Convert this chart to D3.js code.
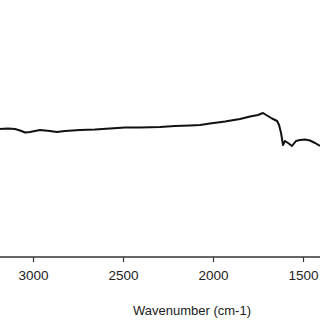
<!DOCTYPE html>
<html>
<head>
<meta charset="utf-8">
<script src="https://cdn.jsdelivr.net/npm/d3@7"></script>
<style>
  body { margin: 0; background: #fff; }
  svg { display: block; }
  text { font-family: "Liberation Sans", Arial, sans-serif; fill: #222; }
</style>
</head>
<body>
<svg width="320" height="320"></svg>
<script>
// wavenumber (cm-1) and transmittance-like values
const wavenumber = [3183, 3139, 3100, 3072, 3044, 3017, 2961, 2906, 2867, 2822,
  2739, 2656, 2572, 2489, 2406, 2294, 2211, 2128, 2072, 2017,
  1933, 1850, 1794, 1750, 1722, 1700, 1672, 1644, 1633, 1622,
  1611, 1600, 1583, 1561, 1539, 1517, 1489, 1461, 1433, 1406];
const signal = [64.0, 64.25, 64.0, 63.25, 62.25, 62.5, 63.5, 63.0, 62.5, 63.0,
  63.5, 63.75, 64.25, 64.75, 64.75, 65.0, 65.5, 65.75, 66.0, 66.75,
  67.75, 69.0, 70.25, 71.0, 72.0, 70.75, 69.25, 68.0, 66.0, 62.0,
  56.0, 58.0, 57.0, 55.5, 58.0, 58.5, 58.75, 58.25, 57.0, 55.5];
const xTicks = [3000, 2500, 2000, 1500];
const xTitle = 'Wavenumber (cm-1)';

const svg = d3.select('svg');

const x = d3.scaleLinear().domain([3000, 1500]).range([33, 303]);
const y = d3.scaleLinear().domain([0, 100]).range([257, 57]);

const pts = wavenumber.map((w, i) => [w, signal[i]]);

const line = d3.line()
  .x(d => x(d[0]))
  .y(d => y(d[1]));

svg.append('path')
  .datum(pts)
  .attr('fill', 'none')
  .attr('stroke', '#111')
  .attr('stroke-width', 2)
  .attr('stroke-linejoin', 'round')
  .attr('d', line);

// x axis
const axis = d3.axisBottom(x)
  .tickValues(xTicks)
  .tickFormat(d3.format('d'))
  .tickSize(5)
  .tickPadding(8)
  .tickSizeOuter(0);

const gx = svg.append('g')
  .attr('transform', 'translate(0,257)')
  .call(axis);

gx.select('.domain').remove();
gx.append('line')
  .attr('x1', 0).attr('x2', 320)
  .attr('stroke', '#333').attr('stroke-width', 1.5);
gx.selectAll('.tick line').attr('stroke', '#333').attr('stroke-width', 1.2);
gx.selectAll('.tick text')
  .attr('font-size', 13.5)
  .attr('font-family', '"Liberation Sans", Arial, sans-serif')
  .attr('fill', '#222');

svg.append('text')
  .attr('x', 192)
  .attr('y', 315)
  .attr('text-anchor', 'middle')
  .attr('font-size', 13)
  .text(xTitle);
</script>
</body>
</html>
